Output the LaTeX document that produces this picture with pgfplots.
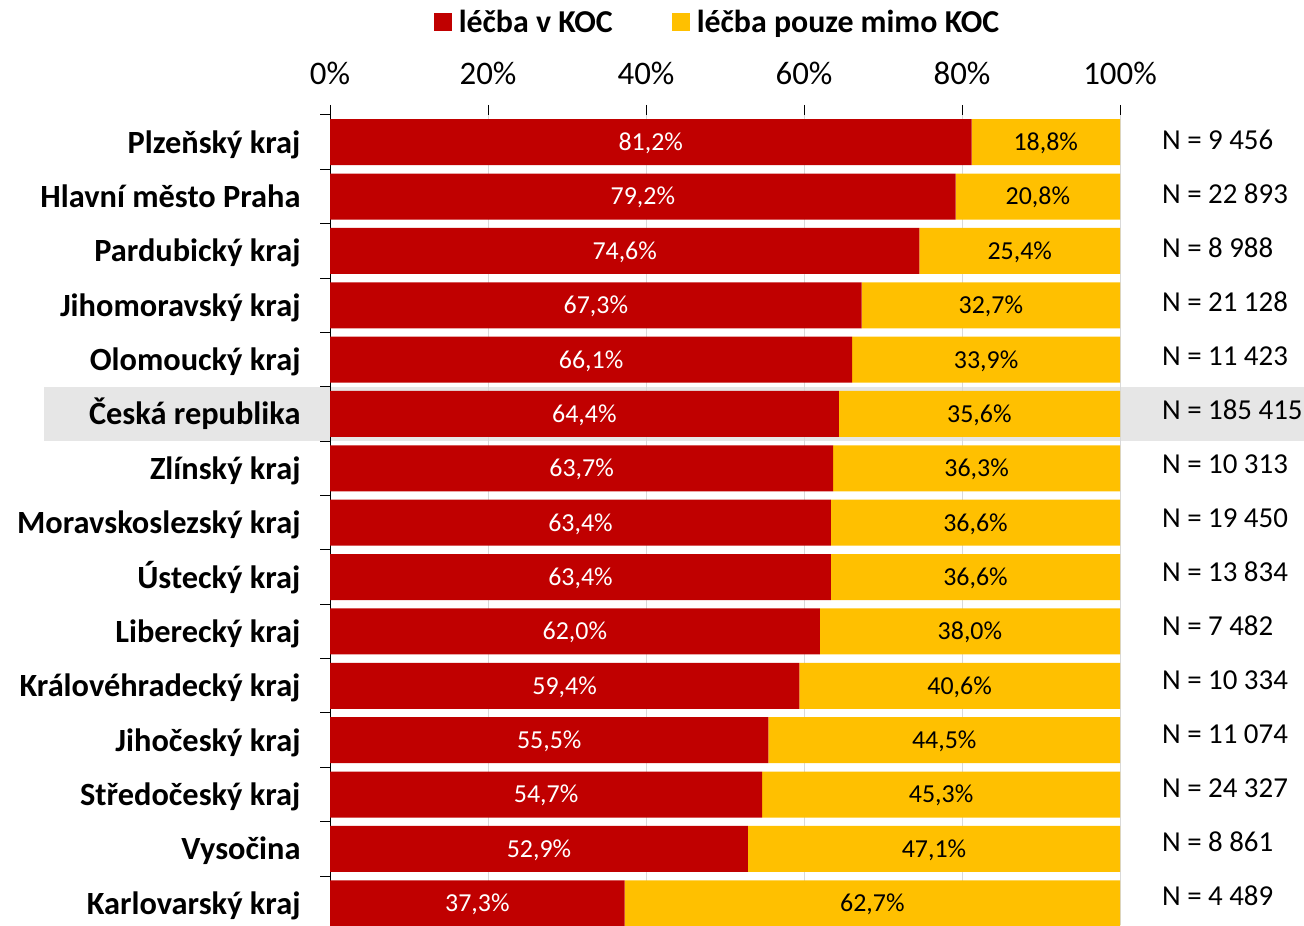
\documentclass[border=0pt]{standalone}
\usepackage{fontspec}
\setmainfont{Carlito}
\usepackage{pgfplots}
\usepackage{pgfplotstable}
\pgfplotsset{compat=1.18}
\definecolor{koc}{RGB}{192,0,0}
\definecolor{mimo}{RGB}{255,192,0}
\definecolor{band}{RGB}{230,230,230}
\definecolor{gridc}{RGB}{217,217,217}

\pgfplotstableread{
idx red yellow
14 81.2 18.8
13 79.2 20.8
12 74.6 25.4
11 67.3 32.7
10 66.1 33.9
9 64.4 35.6
8 63.7 36.3
7 63.4 36.6
6 63.4 36.6
5 62.0 38.0
4 59.4 40.6
3 55.5 44.5
2 54.7 45.3
1 52.9 47.1
0 37.3 62.7
}\datatable

\begin{document}
\begin{tikzpicture}[x=1bp,y=1bp]
\useasboundingbox (0,0) rectangle (1304,925);
\fill[band] (44,484) rectangle (1304,538);
\begin{axis}[
  at={(330bp,0bp)}, anchor=south west,
  scale only axis, width=790bp, height=810bp,
  xbar stacked, bar width=46bp,
  xmin=0, xmax=100, ymin=-0.4, ymax=14.5,
  axis x line*=top, axis y line*=left,
  x axis line style={draw=none},
  y axis line style={black, line width=1bp},
  tick align=outside, major tick length=10bp,
  xtick={0,20,40,60,80,100},
  xticklabels={0\%,20\%,40\%,60\%,80\%,100\%},
  xticklabel style={font=\fontsize{33}{39}\selectfont, yshift=17bp},
  x tick style={black, line width=1bp},
  xmajorgrids, x grid style={gridc, line width=1bp},
  ytick={0,...,14},
  yticklabels={Karlovarský kraj,Vysočina,Středočeský kraj,Jihočeský kraj,Královéhradecký kraj,Liberecký kraj,Ústecký kraj,Moravskoslezský kraj,Zlínský kraj,Česká republika,Olomoucký kraj,Jihomoravský kraj,Pardubický kraj,Hlavní město Praha,Plzeňský kraj},
  y tick style={draw=none},
  yticklabel style={font=\fontsize{32.5}{38}\selectfont\bfseries, anchor=base east, yshift=-11bp, xshift=-16bp},
  extra y ticks={0.5,1.5,...,14.5},
  extra y tick labels={},
  extra y tick style={y tick style={draw=black, line width=1bp}},
  legend style={at={(0.4905,1.1148)}, anchor=center, draw=none, fill=none,
    legend columns=2, font=\fontsize{32}{38}\selectfont\bfseries,
    /tikz/every odd column/.append style={column sep=5bp},
    /tikz/every even column/.append style={column sep=57bp}},
  legend image code/.code={\fill[#1] (0bp,-9bp) rectangle (18bp,9bp);},
]
\addplot[fill=koc, draw=none] table[x=red, y=idx] {\datatable};
\addlegendentry{léčba v KOC}
\addplot[fill=mimo, draw=none] table[x=yellow, y=idx] {\datatable};
\addlegendentry{léčba pouze mimo KOC}
\end{axis}
% data labels centred in each segment
\begin{axis}[
  at={(330bp,0bp)}, anchor=south west,
  scale only axis, width=790bp, height=810bp,
  xmin=0, xmax=100, ymin=-0.4, ymax=14.5,
  hide axis, clip=false,
  /pgf/number format/assume math mode=true,
  nodes near coords={\pgfmathprintnumber[fixed,fixed zerofill,precision=1,use comma]{\pgfplotspointmeta}\%},
  every node near coord/.append style={font=\fontsize{26}{30}\selectfont, anchor=base, yshift=-8.4bp},
]
\addplot[draw=none, mark=none, point meta=\thisrow{red},
  every node near coord/.append style={text=white}]
  table[x expr=\thisrow{red}/2, y=idx] {\datatable};
\addplot[draw=none, mark=none, point meta=\thisrow{yellow},
  every node near coord/.append style={text=black}]
  table[x expr=\thisrow{red}+\thisrow{yellow}/2, y=idx] {\datatable};
\end{axis}
\begin{axis}[
  at={(330bp,0bp)}, anchor=south west,
  scale only axis, width=790bp, height=810bp,
  xmin=0, xmax=100, ymin=-0.537, ymax=14.463,
  hide x axis,
  axis y line*=right,
  y axis line style={draw=none},
  major tick length=0bp,
  ytick={0,...,14},
  yticklabels={N = 4 489,N = 8 861,N = 24 327,N = 11 074,N = 10 334,N = 7 482,N = 13 834,N = 19 450,N = 10 313,N = 185 415,N = 11 423,N = 21 128,N = 8 988,N = 22 893,N = 9 456},
  y tick style={draw=none},
  yticklabel style={font=\fontsize{29}{35}\selectfont, anchor=base west, yshift=-9.4bp, xshift=38.5bp},
]
\end{axis}
\end{tikzpicture}
\end{document}
